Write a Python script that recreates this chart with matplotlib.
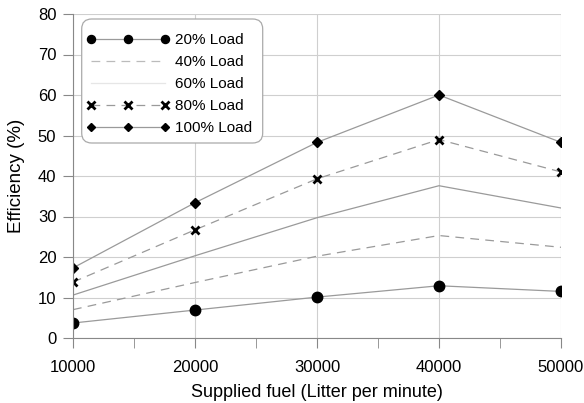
import matplotlib
matplotlib.use("Agg")
import matplotlib.pyplot as plt
from matplotlib.ticker import MultipleLocator
from matplotlib.patches import FancyBboxPatch
from matplotlib.transforms import IdentityTransform

plt.rcParams['font.family'] = ['Liberation Sans', 'DejaVu Sans']

fuel = [10000, 20000, 30000, 40000, 50000]
load20 = [3.7, 6.9, 10.1, 12.9, 11.5]
load40 = [7.0, 13.7, 20.2, 25.3, 22.4]
load60 = [10.6, 20.3, 29.7, 37.6, 32.1]
load80 = [13.8, 26.7, 39.3, 49.0, 41.0]
load100 = [17.3, 33.4, 48.3, 60.0, 48.3]
labels = ['20% Load', '40% Load', '60% Load', '80% Load', '100% Load']

fig = plt.figure(figsize=(5.84, 4.03), dpi=100)
ax = fig.add_axes([73/584, 1 - 338/403, 488/584, 324/403])

lc = '#9a9a9a'
ax.plot(fuel, load20, color=lc, lw=0.9, marker='o', ms=7.5, mfc='black', mec='black', label=labels[0])
ax.plot(fuel, load40, color=lc, lw=0.9, ls=(0, (7, 5)), label=labels[1])
ax.plot(fuel, load60, color=lc, lw=0.9, label=labels[2])
ax.plot(fuel, load80, color=lc, lw=0.9, ls=(0, (7, 5)), marker='x', ms=6, mew=2, mec='black', label=labels[3])
ax.plot(fuel, load100, color=lc, lw=0.9, marker='D', ms=5, mfc='black', mec='black', label=labels[4])

ax.set_xlim(10000, 50000)
ax.set_ylim(0, 80)
ax.xaxis.set_major_locator(MultipleLocator(10000))
ax.xaxis.set_minor_locator(MultipleLocator(5000))
ax.yaxis.set_major_locator(MultipleLocator(10))
ax.grid(True, which='major', color='#cfcfcf', lw=0.8)
ax.set_axisbelow(True)
for s in ['top', 'right']:
    ax.spines[s].set_visible(False)
for s in ['left', 'bottom']:
    ax.spines[s].set_color('#888888')
ax.tick_params(which='both', direction='out', length=7, color='#888888', labelsize=12)
ax.tick_params(axis='x', which='both', pad=8.5)
ax.tick_params(axis='y', which='both', pad=5)

ax.set_xlabel('Supplied fuel (Litter per minute)', fontsize=13, labelpad=7)
ax.set_ylabel('Efficiency (%)', fontsize=13.5, labelpad=9)

leg = ax.legend(loc='upper left', bbox_to_anchor=((86.4 - 73) / 488, 1 - (33.3 - 14) / 324),
                borderaxespad=0, borderpad=0, frameon=False,
                numpoints=3, fontsize=11, handlelength=5.45, handletextpad=0.35,
                labelspacing=0.52)
hl = leg.get_lines()
hl[0].set_markersize(5.8)
hl[1].set_color('#bbbbbb')
hl[2].set_color('#e6e6e6')
hl[3].set_markersize(5.5)
hl[4].set_markersize(4.2)

box = FancyBboxPatch((81.7, 403 - 143), 181, 124, boxstyle='round,pad=0,rounding_size=10',
                     transform=IdentityTransform(), facecolor='white', edgecolor='#aaaaaa',
                     lw=0.9, zorder=4)
ax.add_artist(box)
leg.set_zorder(5)

fig.savefig('out.png', dpi=100)
